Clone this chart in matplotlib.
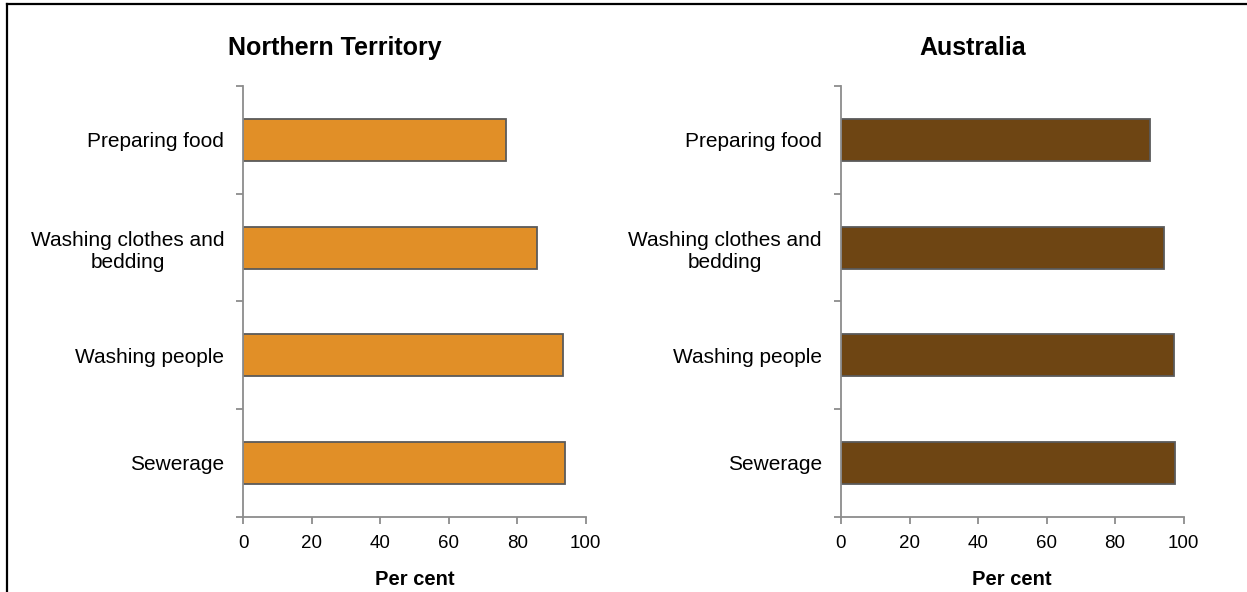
import matplotlib
matplotlib.use("Agg")
import matplotlib.pyplot as plt
from matplotlib.lines import Line2D
import numpy as np

plt.rcParams['font.family'] = ['Liberation Sans', 'DejaVu Sans']

categories = ["Preparing food", "Washing clothes and\nbedding", "Washing people", "Sewerage"]
nt_values = [76.7, 85.7, 93.4, 94.0]
aus_values = [90.3, 94.2, 97.1, 97.4]
panel_titles = ["Northern Territory", "Australia"]
x_ticks = [0, 20, 40, 60, 80, 100]
x_label = "Per cent"

colors = ["#E18F27", "#6E4513"]
edge = "#5a5a5a"
axis_col = "#8c8c8c"

W, H = 1247, 592
fig = plt.figure(figsize=(W / 100, H / 100), dpi=100)

def fx(px):
    return px / W

def fy(py):
    return 1 - py / H

ax_left = [243.3, 841.0]
ax_w = 342.5
top, bottom = 86.0, 516.7
title_cx = [335, 973]

for i, (vals, title) in enumerate(zip([nt_values, aus_values], panel_titles)):
    ax = fig.add_axes([fx(ax_left[i]), fy(bottom), fx(ax_w), (bottom - top) / H])
    pos = np.arange(len(categories))
    ax.barh(pos, vals, height=0.39, color=colors[i], edgecolor=edge, linewidth=1.3)
    ax.set_ylim(len(categories) - 0.5, -0.5)
    ax.set_xlim(0, 100)
    ax.set_xticks(x_ticks)
    ax.set_xticklabels([str(t) for t in x_ticks], fontsize=13.5)
    ax.set_yticks(pos)
    ax.set_yticklabels(categories, fontsize=15, multialignment='center')
    ax.set_yticks(np.arange(-0.5, len(categories), 1.0), minor=True)
    ax.tick_params(axis='y', which='major', length=0, pad=13.8)
    ax.tick_params(axis='y', which='minor', length=5, color=axis_col, width=1.3, direction='out')
    ax.tick_params(axis='x', length=5, color=axis_col, width=1.3, direction='out', pad=8.5)
    for s in ['top', 'right']:
        ax.spines[s].set_visible(False)
    for s in ['left', 'bottom']:
        ax.spines[s].set_color(axis_col)
        ax.spines[s].set_linewidth(1.3)
    ax.set_xlabel(x_label, fontsize=14.5, fontweight='bold', labelpad=12.5)
    fig.text(fx(title_cx[i]), fy(48), title, fontsize=18, fontweight='bold',
             ha='center', va='center')

# figure frame (top and left)
fig.add_artist(Line2D([fx(7), 1.0], [fy(4), fy(4)], color='black', lw=1.6, transform=fig.transFigure))
fig.add_artist(Line2D([fx(7), fx(7)], [fy(4), 0.0], color='black', lw=1.6, transform=fig.transFigure))

fig.savefig("out.png", dpi=100)
